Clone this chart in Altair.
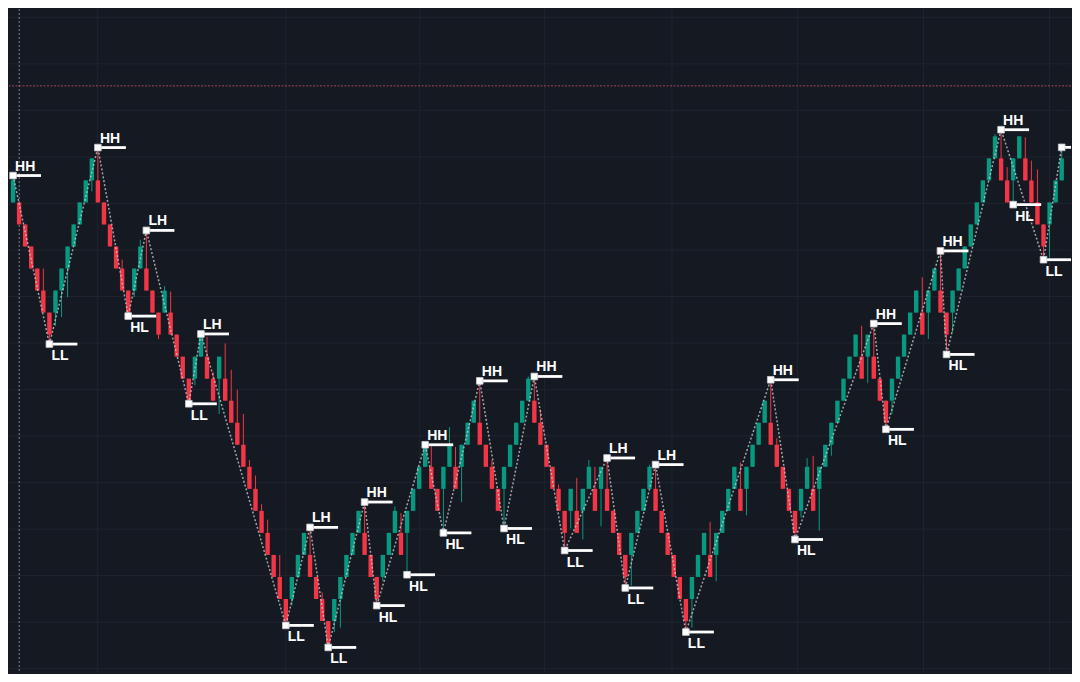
import altair as alt
import pandas as pd

# Renko-style candles (brick size 1.0)
opens = [50, 50, 49, 48, 47, 46, 45, 45, 46, 47,
         48, 49, 50, 51, 51, 50, 49, 48, 47, 46,
         46, 47, 47, 46, 45, 45, 45, 44, 43, 42,
         42, 43, 43, 42, 42, 42, 41, 40, 39, 38,
         37, 36, 35, 34, 33, 32, 32, 33, 34, 34,
         33, 32, 31, 31, 32, 33, 34, 35, 35, 34,
         33, 33, 34, 35, 35, 35, 36, 37, 38, 38,
         37, 37, 38, 38, 38, 39, 40, 40, 39, 38,
         37, 37, 38, 39, 40, 41, 41, 40, 39, 38,
         37, 36, 36, 36, 36, 37, 37, 37, 37, 36,
         35, 34, 34, 35, 36, 37, 37, 36, 35, 34,
         33, 32, 32, 33, 34, 34, 34, 35, 36, 37,
         37, 37, 38, 39, 40, 40, 39, 38, 37, 36,
         36, 37, 37, 37, 38, 39, 40, 41, 42, 43,
         43, 43, 43, 42, 41, 41, 42, 43, 44, 45,
         45, 45, 46, 46, 45, 45, 46, 47, 48, 49,
         50, 51, 52, 52, 51, 51, 52, 52, 51, 50,
         49, 49, 50, 51]
closes = [51, 49, 48, 47, 46, 45, 44, 46, 47, 48,
          49, 50, 51, 52, 50, 49, 48, 47, 46, 45,
          47, 48, 46, 45, 44, 46, 44, 43, 42, 41,
          43, 44, 42, 41, 43, 41, 40, 39, 38, 37,
          36, 35, 34, 33, 32, 31, 33, 34, 35, 33,
          32, 31, 30, 32, 33, 34, 35, 36, 34, 33,
          32, 34, 35, 36, 34, 36, 37, 38, 39, 37,
          36, 38, 39, 37, 39, 40, 41, 39, 38, 37,
          36, 38, 39, 40, 41, 42, 40, 39, 38, 37,
          36, 35, 37, 35, 37, 38, 36, 38, 36, 35,
          34, 33, 35, 36, 37, 38, 36, 35, 34, 33,
          32, 31, 33, 34, 35, 33, 35, 36, 37, 38,
          36, 38, 39, 40, 41, 39, 38, 37, 36, 35,
          37, 38, 36, 38, 39, 40, 41, 42, 43, 44,
          42, 44, 42, 41, 40, 42, 43, 44, 45, 46,
          44, 46, 47, 45, 44, 46, 47, 48, 49, 50,
          51, 52, 53, 51, 50, 52, 53, 51, 50, 49,
          48, 50, 51, 52]
upper_wick = [0.22, 0, 0, 0, 0, 1.0, 0, 0, 0, 0,
              0, 0, 0, 0, 1.49, 0, 0, 0, 0.4, 0,
              0, 0.3, 1.73, 0, 0, 0.2, 0.95, 0, 0, 0,
              0, 0.03, 0.9, 0.3, 0, 1.6, 1.4, 1.5, 1.4, 0.3,
              0.6, 0.3, 0.6, 0, 1.0, 0, 0, 0, 0, 1.25,
              0, 0.3, 0, 0, 0, 0, 0, 0, 1.4, 0,
              0, 0, 0, 0.2, 0.9, 0, 0, 0, 0, 0.93,
              0, 0, 0.8, 0.9, 0, 0, 0, 1.9, 0, 0.3,
              0, 0, 0, 0, 0, 0.1, 1.1, 0.6, 0, 0,
              0.2, 0, 0, 1.5, 0, 0.3, 1.0, 0, 1.4, 0,
              0, 0, 0, 0, 0, 0.1, 1.1, 0, 0, 0,
              0, 0, 0, 0, 0, 1.5, 0, 0, 0, 0,
              1.2, 0, 0, 0, 0, 1.95, 0.3, 0, 0, 0,
              0, 0.4, 1.5, 0, 0, 0, 0, 0, 0, 0,
              1.4, 0, 1.5, 0, 0, 0, 0, 0, 0, 0,
              1.6, 0, 0, 1.8, 0, 0, 0, 0, 0, 0,
              0, 0, 0.1, 1.3, 0.6, 0, 0, 0.95, 0.9, 1.5,
              0, 0, 0, 0.5]
lower_wick = [0, 0, 0, 0, 0, 0, 0.43, 0.6, 1.2, 1.3,
              0, 0, 0, 0.5, 0, 0, 0, 0, 0, 0.16,
              0.3, 0, 0, 0, 0.2, 0, 0, 0, 0, 0.14,
              0.3, 0, 0, 0, 1.6, 0, 0, 0, 0, 0,
              0, 0, 0, 0, 0, 0.2, 0.3, 0, 0, 0,
              0, 0, 0.2, 0.5, 1.3, 0, 0, 0, 0, 0,
              0.3, 0.2, 0, 0, 0, 1.9, 0, 0, 0, 0,
              0, 2.0, 0, 0, 1.6, 0, 0, 0, 0, 0,
              0, 1.8, 0, 0, 0, 0, 0, 0, 0, 0,
              0, 0.8, 0.8, 0, 1.3, 0, 0, 1.7, 0, 0,
              0, 0.5, 1.4, 0, 0, 0, 0, 0, 0, 0,
              0, 0.5, 1.3, 0, 0, 0, 1.2, 0, 0, 0,
              0, 1.2, 0, 0, 0, 0, 0, 0, 0, 0.3,
              0.3, 0, 0, 1.9, 0, 0.5, 0, 0, 0, 0,
              0, 1.2, 0, 0, 0.3, 0.6, 0, 0, 0, 0,
              0, 1.2, 0, 0, 0.9, 0.9, 0, 0, 0, 0,
              0, 0, 0, 0, 0, 1.1, 0, 0, 0, 0,
              0.6, 1.5, 0, 0]

# swing points (candle number, label, kind)
swing_index = [1, 7, 15, 20, 23, 30, 32, 46, 50, 53, 59, 61, 66, 69, 72, 78, 82,
               87, 92, 99, 102, 107, 112, 126, 130, 143, 145, 154, 155, 164, 166, 171, 174]
swing_label = ["HH", "LL", "HH", "HL", "LH", "LL", "LH", "LL", "LH", "LL", "HH", "HL", "HL",
               "HH", "HL", "HH", "HL", "HH", "LL", "LH", "LL", "LH", "LL", "HH", "HL", "HH",
               "HL", "HH", "HL", "HH", "HL", "LL", ""]
swing_kind = ["high", "low", "high", "low", "high", "low", "high", "low", "high", "low",
              "high", "low", "low", "high", "low", "high", "low", "high", "low", "high",
              "low", "high", "low", "high", "low", "high", "low", "high", "low", "high",
              "low", "low", "high"]
zigzag_index = [1, 7, 15, 20, 23, 30, 32, 46, 50, 53, 59, 61, 69, 72, 78, 82, 87, 92, 99,
                102, 107, 112, 126, 130, 143, 145, 154, 155, 164, 171, 174]

grid_x = [14.9, 46.0, 68.1, 88.7, 109.7, 130.4, 151.2, 172.0]
grid_y = [58.40, 56.29, 54.18, 52.07, 49.96, 47.84, 45.73, 43.62, 41.51, 39.40,
          37.29, 35.17, 33.06, 30.95, 28.84]
alert_level = [55.29]
session_start = [2.02]

n = len(opens)
assert len(closes) == n and len(upper_wick) == n and len(lower_wick) == n

candles = pd.DataFrame({
    "idx": list(range(1, n + 1)),
    "open": opens,
    "close": closes,
})
candles["high"] = [max(o, c) + w for o, c, w in zip(opens, closes, upper_wick)]
candles["low"] = [min(o, c) - w for o, c, w in zip(opens, closes, lower_wick)]
candles["dir"] = ["up" if c > o else "down" for o, c in zip(opens, closes)]

hi = dict(zip(candles["idx"], candles["high"]))
lo = dict(zip(candles["idx"], candles["low"]))
swings = pd.DataFrame({"idx": swing_index, "label": swing_label, "kind": swing_kind})
swings["price"] = [hi[i] if k == "high" else lo[i] for i, k in zip(swing_index, swing_kind)]
kind_of = dict(zip(swing_index, swing_kind))
zz = pd.DataFrame({"idx": zigzag_index})
zz["price"] = [hi[i] if kind_of[i] == "high" else lo[i] for i in zigzag_index]

BG = "#151922"
GREEN = "#089981"
RED = "#F23645"

xs = alt.Scale(domain=[1.16, 174.71], nice=False, zero=False)
ys = alt.Scale(domain=[28.64, 58.78], nice=False, zero=False)
X = lambda f: alt.X(f, type="quantitative", scale=xs, axis=None)
Y = lambda f: alt.Y(f, type="quantitative", scale=ys, axis=None)
col = alt.Color("dir:N", scale=alt.Scale(domain=["up", "down"], range=[GREEN, RED]), legend=None)

gx = alt.Chart(pd.DataFrame({"idx": grid_x})).mark_rule(color="#1f2430", strokeWidth=1).encode(x=X("idx"))
gy = alt.Chart(pd.DataFrame({"price": grid_y})).mark_rule(color="#1f2430", strokeWidth=1).encode(y=Y("price"))
vline = alt.Chart(pd.DataFrame({"idx": session_start})).mark_rule(
    color="#6a6f7c", strokeWidth=1.2, strokeDash=[2, 2]).encode(x=X("idx"))
hline = alt.Chart(pd.DataFrame({"price": alert_level})).mark_rule(
    color="#a8455f", strokeWidth=1, strokeDash=[2, 1.5]).encode(y=Y("price"))

wicks = alt.Chart(candles).mark_rule(strokeWidth=1, clip=True).encode(
    x=X("idx"), y=Y("low"), y2="high", color=col)
bodies = alt.Chart(candles).mark_bar(size=4.4, clip=True).encode(
    x=X("idx"), y=Y("open"), y2="close", color=col)

zigzag = alt.Chart(zz).mark_line(color="#c3c7cf", strokeWidth=1.5, strokeDash=[2, 2],
                                 opacity=0.8, clip=True).encode(
    x=X("idx"), y=Y("price"), order="idx:Q")

lines = alt.Chart(swings).mark_rule(color="#ffffff", strokeWidth=2.8, x2Offset=28, clip=True).encode(
    x=X("idx"), x2="idx", y=Y("price"))
squares = alt.Chart(swings).mark_square(size=44, filled=True, color="#ffffff", stroke="#c9ccd3",
                                        strokeWidth=0.8, opacity=1, clip=True).encode(
    x=X("idx"), y=Y("price"))
txt_hi = alt.Chart(swings).transform_filter("datum.kind == 'high'").mark_text(
    align="left", baseline="alphabetic", dx=2, dy=-5, font="Liberation Sans", fontSize=14,
    fontWeight="bold", color="#ffffff", clip=True).encode(x=X("idx"), y=Y("price"), text="label:N")
txt_lo = alt.Chart(swings).transform_filter("datum.kind == 'low'").mark_text(
    align="left", baseline="alphabetic", dx=2, dy=16, font="Liberation Sans", fontSize=14,
    fontWeight="bold", color="#ffffff", clip=True).encode(x=X("idx"), y=Y("price"), text="label:N")

chart = alt.layer(gx, gy, vline, hline, wicks, bodies, zigzag, lines, squares, txt_hi, txt_lo).properties(
    width=1064, height=666, padding=0, background=BG,
    autosize=alt.AutoSizeParams(type="fit", contains="padding"),
).configure_view(stroke=None, fill=BG)

chart.save("out.html", embed_options={"renderer": "svg", "actions": False})
